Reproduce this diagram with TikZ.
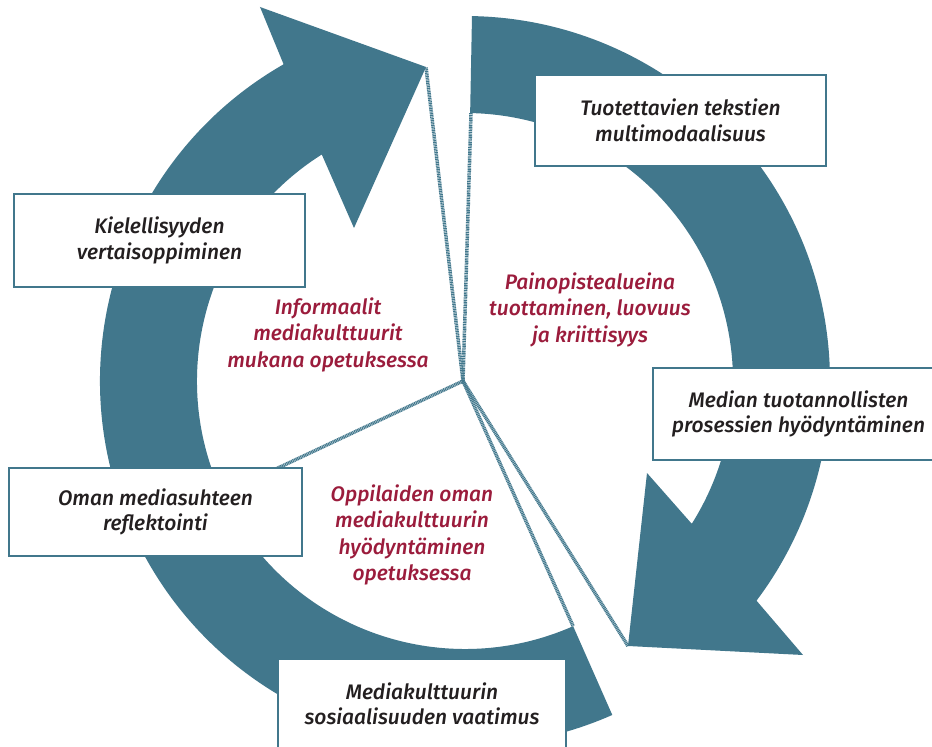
\documentclass[tikz,border=0pt]{standalone}
\usepackage{fontspec}
\setmainfont{Fira Sans}[ItalicFont=* Medium Italic]
\usepackage{tikz}

\begin{document}
\begin{tikzpicture}[x=1pt,y=1pt,
		kasten/.style={draw=petrol, line width=1.6pt, fill=white, text=tinte, align=center, inner sep=0pt, font=\itshape\fontsize{21}{25.5}\selectfont},
		schwerpunkt/.style={text=weinrot, align=center, inner sep=0pt, font=\itshape\fontsize{21}{26.5}\selectfont},
		trenner/.style={petrol, line width=3.5pt, dash pattern=on 1.1pt off 0.6pt}]

		\definecolor{petrol}{HTML}{41778C}
		\definecolor{weinrot}{HTML}{9B1C3C}
		\definecolor{tinte}{HTML}{231F20}

		\useasboundingbox[fill=white] (-465,-366) rectangle (467,381);

		% Pfeile
		\fill[petrol] (-66.2:365) arc[start angle=-66.2, end angle=-240.2, radius=365]
			-- (-205,374) -- (-39,314) -- (-111,153) -- (122.3:268)
			arc[start angle=122.3, end angle=293.8, radius=268] -- cycle;
		\fill[petrol] (88.9:365) arc[start angle=88.9, end angle=-37, radius=365]
			-- (338,-274) -- (163,-265) -- (182,-92) -- (-32.2:268)
			arc[start angle=-32.2, end angle=88.9, radius=268] -- cycle;

		% Punkte
		\coordinate (mitte) at (-2,0);
		\coordinate (spitzeA) at (-39,314);
		\coordinate (endeB) at (6,268);
		\coordinate (links) at (205:268);
		\coordinate (endeA) at (-66.2:268);
		\coordinate (spitzeB) at (163,-265);

		% Trennlinien
		\foreach \p in {spitzeA,endeB,links,endeA,spitzeB}
			\draw[trenner] (mitte) -- (\p);

		% Kaesten
		\node[kasten, minimum width=291, minimum height=91] (tuotettavien) at (215.5,260.5) {Tuotettavien tekstien\\multimodaalisuus};
		\node[kasten, minimum width=291, minimum height=93] (kielellisyyden) at (-305.5,140.5) {Kielellisyyden\\vertaisoppiminen};
		\node[kasten, minimum width=291, minimum height=92] (median) at (333.5,-33) {Median tuotannollisten\\prosessien hyödyntäminen};
		\node[kasten, minimum width=293, minimum height=88] (oman) at (-309.5,-131) {Oman mediasuhteen\\reflektointi};
		\node[kasten, minimum width=288, minimum height=90] (mediakulttuurin) at (-43,-323) {Mediakulttuurin\\sosiaalisuuden vaatimus};

		% Texte
		\node[schwerpunkt] (informaalit) at (-137,46.5) {Informaalit\\mediakulttuurit\\mukana opetuksessa};
		\node[schwerpunkt] (painopiste) at (125,71.5) {Painopistealueina\\tuottaminen, luovuus\\ja kriittisyys};
		\node[schwerpunkt] (oppilaiden) at (-53,-154) {Oppilaiden oman\\mediakulttuurin\\hyödyntäminen\\opetuksessa};

	\end{tikzpicture}
\end{document}
